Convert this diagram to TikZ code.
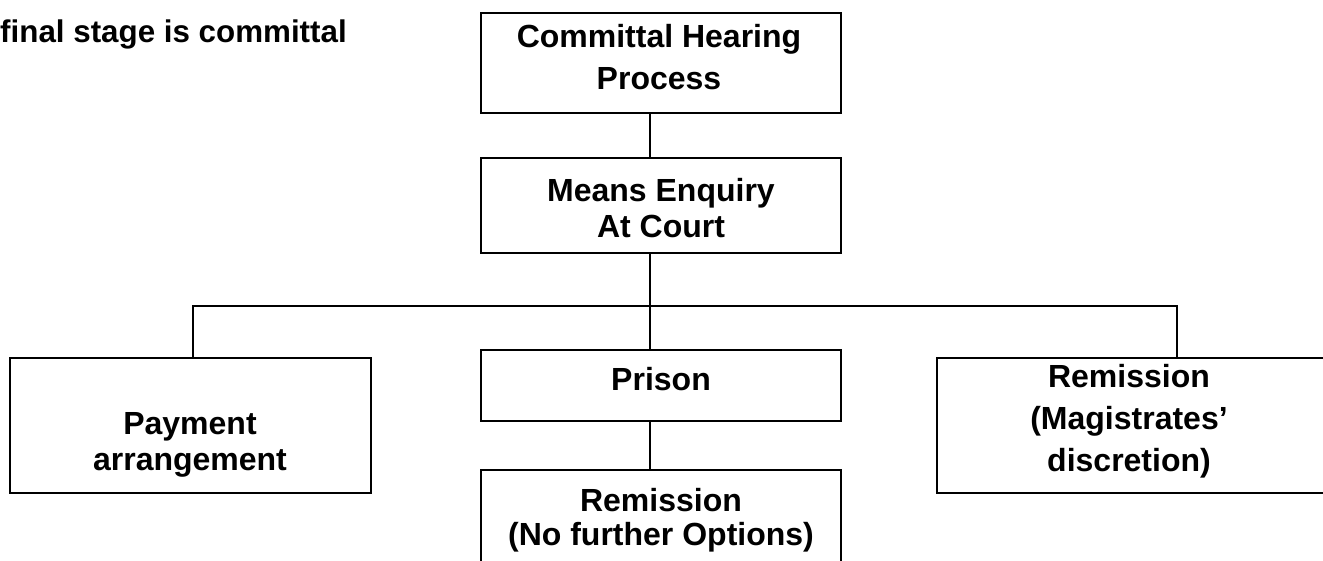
\documentclass[tikz,border=0pt]{standalone}
\usepackage{fontspec}
\setmainfont{Liberation Sans}
\usepackage{tikz}

\tikzset{
  box/.style={draw, line width=1pt, inner sep=0pt, minimum width=270pt},
  boxtext/.style={align=center, inner sep=0pt, font=\bfseries\fontsize{24}{31.5}\selectfont},
  link/.style={line width=1pt}
}

\begin{document}
\begin{tikzpicture}[x=0.75pt,y=-0.75pt]
		% Fix picture size to the reference
		\useasboundingbox (0,0) rectangle (1323,560);
		\clip (0,0) rectangle (1323,560);
		% Heading at the top left
		\node[boxtext, anchor=base east, font=\bfseries\fontsize{23.5}{28}\selectfont] (heading) at (347,43) {final stage is committal};
		% Draw boxes; adjust sizes here
		\node[box, minimum height=75pt] (hearing) at (661,63) {};
		\node[box, minimum height=71.25pt] (enquiry) at (661,205.5) {};
		\node[box, minimum height=53.25pt] (prison) at (661,385.5) {};
		\node[box, minimum height=97.5pt] (remfinal) at (661,535) {};
		\node[box, minimum height=101.25pt, minimum width=270.75pt] (payment) at (190.5,425.5) {};
		\node[box, minimum height=101.25pt, minimum width=302.25pt] (remmag) at (1138.5,425.5) {};
		% Box texts
		\node[boxtext] (hearingtext) at (659,57) {Committal Hearing\\Process};
		\node[boxtext, font=\bfseries\fontsize{24}{26.5}\selectfont] (enquirytext) at (661,208) {Means Enquiry\\At Court};
		\node[boxtext] (prisontext) at (661,379) {Prison};
		\node[boxtext, font=\bfseries\fontsize{24}{25.5}\selectfont] (remfinaltext) at (661,520) {Remission\\(No further Options)};
		\node[boxtext, font=\bfseries\fontsize{24}{26.5}\selectfont] (paymenttext) at (190,445) {Payment\\arrangement};
		\node[boxtext] (remmagtext) at (1129,421) {Remission\\(Magistrates'\\discretion)};
		% Branch points of the tree
		\coordinate (split) at (650,306);
		\coordinate (leftend) at (193,306);
		\coordinate (rightend) at (1177,306);
		% Connectors
		\draw[link] (split |- hearing.south) -- (split |- enquiry.north);
		\draw[link] (split |- enquiry.south) -- (split);
		\draw[link] (leftend |- payment.north) -- (leftend) -- (rightend) -- (rightend |- remmag.north);
		\draw[link] (split) -- (split |- prison.north);
		\draw[link] (split |- prison.south) -- (split |- remfinal.north);
	\end{tikzpicture}
\end{document}
